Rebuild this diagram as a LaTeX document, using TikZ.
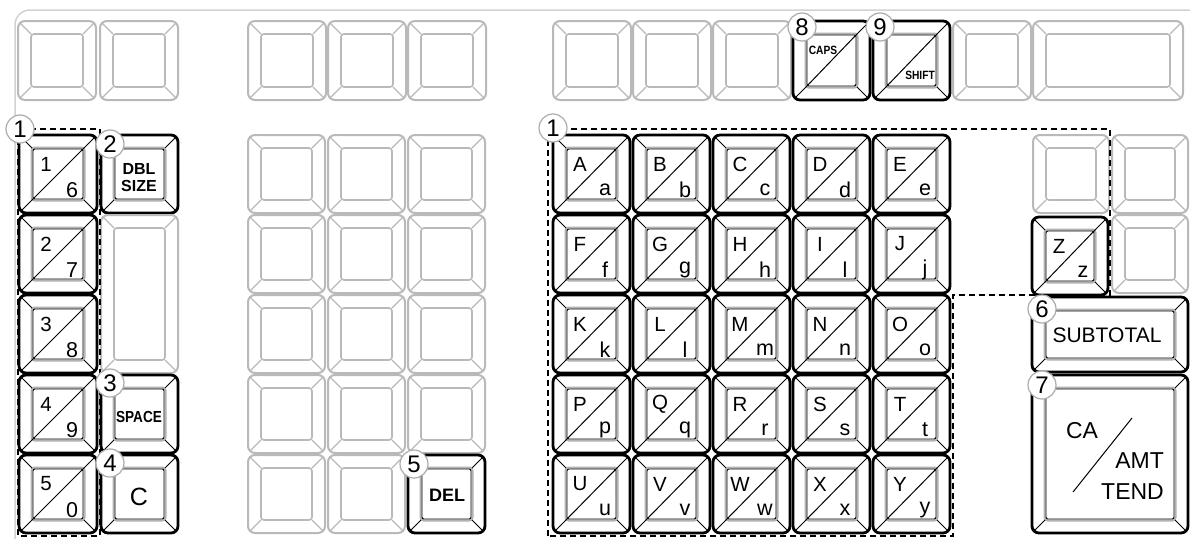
\documentclass[tikz,border=0pt]{standalone}
\usepackage{fontspec}
\setmainfont{Liberation Sans}
\tikzset{
  keyGout/.style={draw=gray!55, line width=2pt, rounded corners=7pt},
  keyGin/.style={draw=gray!55, line width=1.6pt, rounded corners=3pt},
  keyGcl/.style={draw=gray!55, line width=1.2pt},
  keyBout/.style={draw=black, line width=2.8pt, rounded corners=7pt},
  keyBinA/.style={draw=gray!60, line width=2pt, rounded corners=3pt},
  keyBinB/.style={draw=black, line width=0.9pt, rounded corners=2pt},
  keyBcl/.style={draw=black, line width=1pt},
  slashline/.style={draw=black, line width=1pt},
  keylab/.style={inner sep=0pt, font=\fontsize{20.5}{20.5}\selectfont},
  keylabl/.style={inner sep=0pt, font=\fontsize{21.5}{21.5}\selectfont},
  bigtxt/.style={inner sep=0pt, font=\fontsize{21}{21}\selectfont},
  numc/.style={circle, draw=gray!65, line width=1.2pt, fill=white, minimum size=28pt, inner sep=0pt, font=\fontsize{24}{24}\selectfont},
  dashbox/.style={draw=black, line width=1.5pt, dash pattern=on 6pt off 4pt},
  frameline/.style={draw=gray!35, line width=1.5pt, rounded corners=15pt}
}
\newcommand\GKey[4]{%
  \draw[keyGout] (#1,#2) rectangle (#3,#4);
  \draw[keyGin] ({#1+13},{#2+13}) rectangle ({#3-13},{#4-13});
  \draw[keyGcl] ({#1+2},{#2+2}) -- ({#1+13},{#2+13}) ({#3-2},{#2+2}) -- ({#3-13},{#2+13})
    ({#1+2},{#4-2}) -- ({#1+13},{#4-13}) ({#3-2},{#4-2}) -- ({#3-13},{#4-13});
}
\newcommand\BKey[4]{%
  \draw[keyBinA] ({#1+12.5},{#2+12.5}) rectangle ({#3-12.5},{#4-12.5});
  \draw[keyBcl] ({#1+2},{#2+2}) -- ({#1+13},{#2+13}) ({#3-2},{#2+2}) -- ({#3-13},{#2+13})
    ({#1+2},{#4-2}) -- ({#1+13},{#4-13}) ({#3-2},{#4-2}) -- ({#3-13},{#4-13});
  \draw[keyBinB] ({#1+14},{#2+14}) rectangle ({#3-14},{#4-14});
  \draw[keyBout] (#1,#2) rectangle (#3,#4);
}
\newcommand\SKey[7]{%
  \BKey{#2}{#3}{#4}{#5}
  \draw[slashline] ({#2+13},{#5-13}) -- ({#4-13},{#3+13});
  \node[keylab] (#1u) at ({#2+27},{#3+29}) {#6};
  \node[keylabl] (#1l) at ({#4-25},{#5-23}) {#7};
}
\begin{document}
\begin{tikzpicture}[x=1pt,y=-1pt]
\useasboundingbox (0,0) rectangle (1190,538);
\fill[white] (0,0) rectangle (1190,538);
% frame
\draw[frameline] (15,540) -- (15,10) -- (1196,10);
% top row
\foreach \cx in {18,100,248,328,408,553,633,713,953} {\GKey{\cx}{21}{\cx+78}{100}}
\GKey{1033}{21}{1183}{100}
\BKey{793}{21}{870}{100}
\draw[slashline] (806,87) -- (857,34);
\node[inner sep=0pt, font=\bfseries\fontsize{12}{12}\selectfont] (tcaps) at (823,50) {\scalebox{0.85}[1]{CAPS}};
\BKey{873}{21}{950}{100}
\draw[slashline] (886,87) -- (937,34);
\node[inner sep=0pt, font=\bfseries\fontsize{12}{12}\selectfont] (tshift) at (920,75) {\scalebox{0.85}[1]{SHIFT}};
% left column digits
\foreach \U/\L [count=\i from 0] in {1/6,2/7,3/8,4/9,5/0} {\SKey{d\U}{19}{135+80*\i}{97}{213+80*\i}{\U}{\L}}
% left column 2
\BKey{101}{135}{178}{213}
\node[inner sep=0pt, font=\bfseries\fontsize{16}{16}\selectfont] (tdbl) at (139,169) {DBL};
\node[inner sep=0pt, font=\bfseries\fontsize{16}{16}\selectfont] (tsize) at (139,186) {SIZE};
\GKey{101}{215}{178}{373}
\BKey{101}{375}{178}{453}
\node[inner sep=0pt, font=\bfseries\fontsize{16}{16}\selectfont] (tspace) at (139,417) {\scalebox{0.85}[1]{SPACE}};
\BKey{101}{455}{178}{533}
\node[inner sep=0pt, font=\fontsize{25}{25}\selectfont] (tc) at (139,497) {C};
% middle block
\foreach \cx in {248,328} {\foreach \ry in {135,215,295,375,455} {\GKey{\cx}{\ry}{\cx+77}{\ry+78}}}
\foreach \ry in {135,215,295,375} {\GKey{408}{\ry}{485}{\ry+78}}
\BKey{408}{455}{485}{533}
\node[inner sep=0pt, font=\bfseries\fontsize{18}{18}\selectfont] (tdel) at (447,495) {DEL};
% letter block
\foreach \U/\L [count=\i from 0] in {A/a,B/b,C/c,D/d,E/e,F/f,G/g,H/h,I/l,J/j,K/k,L/l,M/m,N/n,O/o,P/p,Q/q,R/r,S/s,T/t,U/u,V/v,W/w,X/x,Y/y} {
  \pgfmathtruncatemacro\cc{mod(\i,5)}
  \pgfmathtruncatemacro\rr{div(\i,5)}
  \SKey{k\U}{553+80*\cc}{135+80*\rr}{630+80*\cc}{213+80*\rr}{\U}{\L}
}
% right block
\GKey{1033}{135}{1109}{213}
\GKey{1112}{135}{1188}{213}
\SKey{kZ}{1032}{217}{1108}{295}{Z}{z}
\GKey{1112}{215}{1188}{293}
\BKey{1032}{297}{1188}{372}
\node[bigtxt] (tsub) at (1107,335) {SUBTOTAL};
\BKey{1032}{375}{1188}{533}
\node[inner sep=0pt, font=\fontsize{23}{23}\selectfont] (tca) at (1082,431) {CA};
\node[inner sep=0pt, font=\fontsize{23}{23}\selectfont, anchor=east] (tamt) at (1164,461) {AMT};
\node[inner sep=0pt, font=\fontsize{23}{23}\selectfont, anchor=east] (ttend) at (1164,492) {TEND};
\draw[slashline] (1073,492) -- (1132,418);
% dashed groups
\draw[dashbox] (18,129) rectangle (100,536);
\draw[dashbox] (548,536) -- (548,129) -- (1110,129) -- (1110,295) -- (953,295) -- (953,536) -- cycle;
% numbered circles
\node[numc] (n1a) at (20,129) {1};
\node[numc] (n2) at (110,144) {2};
\node[numc] (n3) at (110,383) {3};
\node[numc] (n4) at (110,463) {4};
\node[numc] (n5) at (414,464) {5};
\node[numc] (n6) at (1042,309) {6};
\node[numc] (n7) at (1042,385) {7};
\node[numc] (n8) at (802,27) {8};
\node[numc] (n9) at (880,27) {9};
\node[numc] (n1b) at (553,128) {1};
\end{tikzpicture}
\end{document}
